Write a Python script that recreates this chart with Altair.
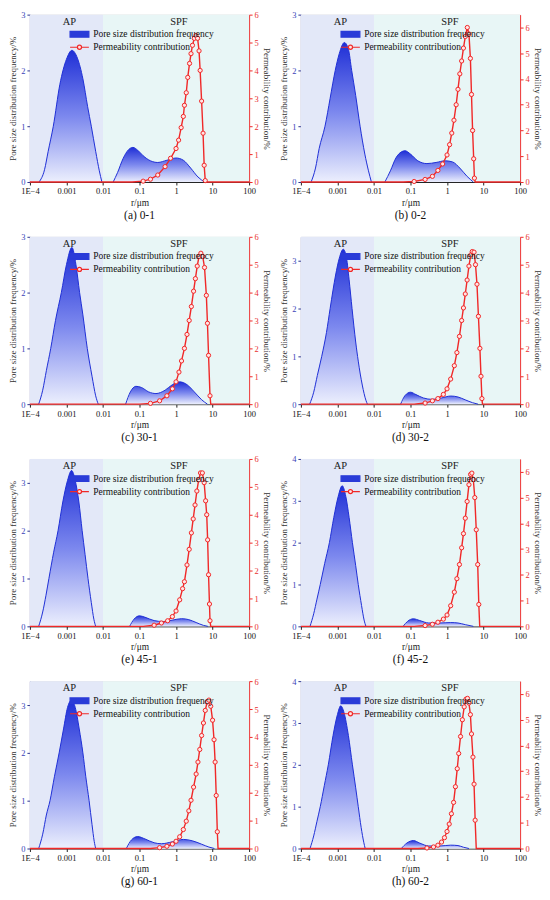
import altair as alt
import pandas as pd

SERIF = "Liberation Serif"

CAPTIONS = ["(a) 0-1", "(b) 0-2", "(c) 30-1", "(d) 30-2",
            "(e) 45-1", "(f) 45-2", "(g) 60-1", "(h) 60-2"]
LEFT_MAX = [3, 3, 3, 3.5, 3.5, 4, 3.5, 4]
RIGHT_MAX = [6, 6.5, 6, 6, 6, 6.5, 6, 6.5]
X_TICKS = [1e-4, 1e-3, 1e-2, 1e-1, 1, 10, 100]
ZONES = ["AP", "SPF"]
ZONE_FROM = [1e-4, 0.01]
ZONE_TO = [0.01, 100]
ZONE_LABEL_R = [0.0012, 1.2]
SERIES = ["Pore size distribution frequency", "Permeability contribution"]

# pore size distribution frequency (%) : [log10(r/um), value]
A_PSD_AP = [[-3.75, 0], [-3.6, 0.22], [-3.5, 0.55], [-3.36, 1.0], [-3.18, 1.75], [-3.0, 2.2],
            [-2.85, 2.36], [-2.7, 2.22], [-2.55, 1.85], [-2.42, 1.35], [-2.32, 1.0], [-2.2, 0.55],
            [-2.1, 0.2], [-2.03, 0]]
A_PSD_SPF = [[-1.72, 0], [-1.6, 0.17], [-1.45, 0.42], [-1.3, 0.58], [-1.18, 0.62], [-1.05, 0.57],
             [-0.9, 0.47], [-0.7, 0.38], [-0.5, 0.35], [-0.25, 0.39], [0.0, 0.43], [0.2, 0.39],
             [0.4, 0.25], [0.6, 0.09], [0.78, 0]]
B_PSD_AP = [[-3.72, 0], [-3.6, 0.25], [-3.5, 0.6], [-3.34, 1.0], [-3.2, 1.5], [-3.06, 2.0],
            [-2.95, 2.3], [-2.81, 2.5], [-2.7, 2.38], [-2.61, 2.0], [-2.5, 1.55], [-2.38, 1.0],
            [-2.25, 0.5], [-2.15, 0.2], [-2.07, 0]]
B_PSD_SPF = [[-1.7, 0], [-1.55, 0.2], [-1.4, 0.43], [-1.25, 0.54], [-1.15, 0.56], [-1.0, 0.5],
             [-0.8, 0.38], [-0.55, 0.33], [-0.3, 0.35], [-0.05, 0.38], [0.15, 0.36], [0.35, 0.25],
             [0.55, 0.1], [0.72, 0]]
C_PSD_AP = [[-3.76, 0], [-3.65, 0.25], [-3.55, 0.6], [-3.43, 1.0], [-3.3, 1.5], [-3.14, 2.0],
            [-3.0, 2.5], [-2.85, 2.81], [-2.74, 2.5], [-2.64, 2.0], [-2.55, 1.6], [-2.43, 1.0],
            [-2.3, 0.5], [-2.2, 0.15], [-2.13, 0]]
C_PSD_SPF = [[-1.38, 0], [-1.25, 0.22], [-1.1, 0.32], [-0.95, 0.3], [-0.75, 0.22], [-0.55, 0.19],
             [-0.3, 0.25], [-0.1, 0.35], [0.1, 0.4], [0.3, 0.35], [0.5, 0.22], [0.7, 0.08], [0.86, 0]]
D_PSD_AP = [[-3.76, 0], [-3.65, 0.25], [-3.55, 0.6], [-3.43, 1.0], [-3.3, 1.5], [-3.2, 2.0],
            [-3.05, 2.7], [-2.95, 3.05], [-2.84, 3.24], [-2.75, 3.05], [-2.68, 2.6], [-2.6, 2.0],
            [-2.5, 1.3], [-2.43, 0.9], [-2.32, 0.4], [-2.22, 0.08], [-2.18, 0]]
D_PSD_SPF = [[-1.27, 0], [-1.15, 0.18], [-1.0, 0.25], [-0.85, 0.2], [-0.65, 0.13], [-0.4, 0.1],
             [-0.15, 0.13], [0.1, 0.17], [0.3, 0.15], [0.5, 0.09], [0.7, 0.03], [0.85, 0]]
E_PSD_AP = [[-3.76, 0], [-3.65, 0.3], [-3.56, 0.65], [-3.48, 1.0], [-3.35, 1.55], [-3.23, 2.0],
            [-3.1, 2.6], [-2.97, 3.05], [-2.86, 3.26], [-2.76, 3.05], [-2.66, 2.6], [-2.57, 2.0],
            [-2.49, 1.5], [-2.41, 1.0], [-2.32, 0.5], [-2.25, 0.15], [-2.2, 0]]
E_PSD_SPF = [[-1.27, 0], [-1.15, 0.15], [-1.0, 0.22], [-0.85, 0.19], [-0.6, 0.12], [-0.35, 0.1],
             [-0.1, 0.13], [0.15, 0.16], [0.35, 0.14], [0.55, 0.08], [0.75, 0.02], [0.87, 0]]
F_PSD_AP = [[-3.75, 0], [-3.65, 0.3], [-3.56, 0.65], [-3.47, 1.0], [-3.35, 1.5], [-3.22, 2.0],
            [-3.1, 2.6], [-2.98, 3.1], [-2.87, 3.36], [-2.77, 3.1], [-2.68, 2.6], [-2.59, 2.0],
            [-2.5, 1.45], [-2.43, 1.0], [-2.34, 0.5], [-2.27, 0.15], [-2.22, 0]]
F_PSD_SPF = [[-1.2, 0], [-1.08, 0.12], [-0.92, 0.18], [-0.75, 0.14], [-0.5, 0.08], [-0.2, 0.08],
             [0.1, 0.09], [0.3, 0.08], [0.5, 0.04], [0.72, 0]]
G_PSD_AP = [[-3.76, 0], [-3.65, 0.3], [-3.55, 0.7], [-3.45, 1.0], [-3.33, 1.5], [-3.2, 2.0],
            [-3.08, 2.5], [-2.97, 2.95], [-2.86, 3.1], [-2.76, 2.95], [-2.65, 2.5], [-2.55, 2.0],
            [-2.47, 1.5], [-2.38, 1.0], [-2.3, 0.5], [-2.24, 0.15], [-2.2, 0]]
G_PSD_SPF = [[-1.36, 0], [-1.22, 0.18], [-1.05, 0.25], [-0.85, 0.2], [-0.6, 0.12], [-0.4, 0.1],
             [-0.1, 0.14], [0.2, 0.19], [0.45, 0.16], [0.7, 0.09], [0.9, 0.03], [1.05, 0]]
H_PSD_AP = [[-3.75, 0], [-3.65, 0.3], [-3.56, 0.65], [-3.47, 1.0], [-3.36, 1.5], [-3.25, 2.0],
            [-3.12, 2.7], [-3.0, 3.2], [-2.91, 3.41], [-2.82, 3.25], [-2.7, 2.7], [-2.59, 2.0],
            [-2.5, 1.45], [-2.43, 1.0], [-2.35, 0.5], [-2.28, 0.15], [-2.24, 0]]
H_PSD_SPF = [[-1.25, 0], [-1.1, 0.13], [-0.92, 0.19], [-0.75, 0.13], [-0.5, 0.06], [-0.2, 0.06],
             [0.1, 0.08], [0.3, 0.07], [0.45, 0.03], [0.6, 0]]

# permeability contribution (%) : [log10(r/um), value]
A_PERM = [[-4, 0], [-1.2, 0], [-0.9, 0.03], [-0.7, 0.1], [-0.5, 0.25], [-0.3, 0.55], [-0.15, 0.85],
          [0.0, 1.2], [0.07, 1.5], [0.14, 1.95], [0.2, 2.35], [0.23, 2.75], [0.28, 3.2], [0.32, 3.75],
          [0.37, 4.25], [0.41, 4.6], [0.45, 4.9], [0.5, 5.15], [0.545, 5.25], [0.59, 5.15],
          [0.63, 4.7], [0.66, 4.0], [0.7, 2.9], [0.74, 1.75], [0.77, 0.6], [0.8, 0.05], [0.82, 0], [2, 0]]
B_PERM = [[-4, 0], [-1.2, 0], [-0.9, 0.02], [-0.6, 0.1], [-0.4, 0.22], [-0.25, 0.45], [-0.12, 0.7],
          [0.0, 1.05], [0.07, 1.45], [0.13, 1.9], [0.19, 2.4], [0.25, 3.0], [0.3, 3.6], [0.35, 4.2],
          [0.4, 4.7], [0.45, 5.2], [0.5, 5.65], [0.555, 6.0], [0.6, 5.75], [0.64, 4.8], [0.67, 3.4],
          [0.7, 2.0], [0.73, 0.9], [0.75, 0.15], [0.77, 0], [2, 0]]
C_PERM = [[-4, 0], [-1.0, 0], [-0.7, 0.03], [-0.45, 0.12], [-0.25, 0.3], [-0.1, 0.55], [0.0, 0.8],
          [0.08, 1.15], [0.15, 1.55], [0.23, 2.0], [0.3, 2.5], [0.36, 3.0], [0.42, 3.5], [0.48, 4.05],
          [0.53, 4.5], [0.58, 4.95], [0.63, 5.3], [0.68, 5.41], [0.73, 5.3], [0.78, 4.9], [0.83, 3.9],
          [0.86, 2.9], [0.89, 1.75], [0.93, 0.3], [0.95, 0], [2, 0]]
D_PERM = [[-4, 0], [-0.9, 0], [-0.6, 0.04], [-0.4, 0.12], [-0.25, 0.2], [-0.1, 0.35], [0.0, 0.55],
          [0.1, 0.9], [0.2, 1.38], [0.27, 1.85], [0.34, 2.43], [0.4, 3.0], [0.45, 3.45], [0.5, 3.95],
          [0.55, 4.45], [0.6, 4.95], [0.65, 5.35], [0.69, 5.47], [0.74, 5.45], [0.78, 5.0], [0.82, 4.3],
          [0.86, 3.15], [0.9, 2.0], [0.93, 1.0], [0.955, 0.2], [0.97, 0], [2, 0]]
E_PERM = [[-4, 0], [-0.9, 0], [-0.6, 0.04], [-0.4, 0.12], [-0.23, 0.2], [-0.1, 0.35], [0.0, 0.55],
          [0.1, 0.95], [0.18, 1.35], [0.23, 1.6], [0.3, 2.2], [0.36, 2.76], [0.42, 3.35], [0.47, 3.85],
          [0.52, 4.35], [0.57, 4.85], [0.62, 5.25], [0.67, 5.5], [0.72, 5.5], [0.77, 5.15], [0.81, 4.5],
          [0.84, 4.0], [0.865, 3.1], [0.89, 1.85], [0.915, 0.8], [0.93, 0.2], [0.95, 0], [2, 0]]
F_PERM = [[-4, 0], [-0.9, 0], [-0.6, 0.03], [-0.4, 0.08], [-0.25, 0.16], [-0.1, 0.28], [0.0, 0.44],
          [0.1, 0.8], [0.2, 1.33], [0.27, 1.85], [0.34, 2.4], [0.4, 3.05], [0.45, 3.6], [0.5, 4.2],
          [0.55, 4.85], [0.6, 5.5], [0.645, 5.9], [0.68, 5.95], [0.72, 5.7], [0.76, 5.0], [0.8, 3.75],
          [0.84, 2.4], [0.87, 0.85], [0.895, 0], [2, 0]]
G_PERM = [[-4, 0], [-0.7, 0], [-0.45, 0.03], [-0.25, 0.08], [-0.1, 0.16], [0.0, 0.26], [0.1, 0.42],
          [0.2, 0.68], [0.28, 0.98], [0.35, 1.35], [0.41, 1.73], [0.48, 2.2], [0.55, 2.67], [0.6, 3.1],
          [0.65, 3.55], [0.7, 4.05], [0.75, 4.5], [0.8, 4.95], [0.85, 5.25], [0.9, 5.32], [0.95, 5.1],
          [1.0, 4.6], [1.04, 3.9], [1.07, 3.1], [1.1, 1.9], [1.13, 0.6], [1.15, 0], [2, 0]]
H_PERM = [[-4, 0], [-0.8, 0], [-0.55, 0.02], [-0.37, 0.06], [-0.25, 0.13], [-0.15, 0.25], [-0.07, 0.42],
          [0.0, 0.66], [0.06, 0.95], [0.12, 1.35], [0.18, 1.79], [0.23, 2.4], [0.28, 3.1], [0.32, 3.69],
          [0.37, 4.35], [0.42, 5.0], [0.47, 5.5], [0.52, 5.8], [0.56, 5.83], [0.6, 5.65], [0.64, 5.2],
          [0.67, 4.45], [0.71, 3.55], [0.74, 2.5], [0.77, 1.1], [0.8, 0], [2, 0]]

PSD_AP = [A_PSD_AP, B_PSD_AP, C_PSD_AP, D_PSD_AP, E_PSD_AP, F_PSD_AP, G_PSD_AP, H_PSD_AP]
PSD_SPF = [A_PSD_SPF, B_PSD_SPF, C_PSD_SPF, D_PSD_SPF, E_PSD_SPF, F_PSD_SPF, G_PSD_SPF, H_PSD_SPF]
PERM = [A_PERM, B_PERM, C_PERM, D_PERM, E_PERM, F_PERM, G_PERM, H_PERM]

BLUE_DARK = "#1f2fd6"
RED = "#f02828"
GRAD = alt.Gradient(
    gradient="linear", x1=1, x2=1, y1=1, y2=0,
    stops=[alt.GradientStop(color="#eceffd", offset=0),
           alt.GradientStop(color="#7c88ee", offset=0.5),
           alt.GradientStop(color=BLUE_DARK, offset=1)])

# legend glyphs: a wide bar, and a short line with a small ring on it
LEG_BAR = "M-3.45,-1.05H3.45V1.05H-3.45Z"
LEG_LINE = ("M-3.45,0H-0.75A0.75,0.75 0 1,1 0.75,0H3.45"
            "M0.75,0A0.75,0.75 0 1,1 -0.75,0")

X_LABEL_EXPR = ("datum.value < 0.0005 ? '1E\u22124' : datum.value < 0.005 ? '0.001' : "
                "datum.value < 0.05 ? '0.01' : datum.value < 0.5 ? '0.1' : "
                "datum.value < 5 ? '1' : datum.value < 50 ? '10' : '100'")


def panel(i):
    rows = []
    for hump, pts in ((ZONES[0], PSD_AP[i]), (ZONES[1], PSD_SPF[i])):
        for lx, v in pts:
            rows.append({"r": 10 ** lx, "v": v, "hump": hump})
    psd = pd.DataFrame(rows)
    perm = pd.DataFrame({"r": [10 ** p[0] for p in PERM[i]],
                         "p": [p[1] for p in PERM[i]],
                         "series": SERIES[1]})
    zones = pd.DataFrame({"zone": ZONES, "x0": ZONE_FROM, "x1": ZONE_TO, "lr": ZONE_LABEL_R,
                          "top": [LEFT_MAX[i]] * 2})

    xs = alt.Scale(type="log", domain=[1e-4, 100], nice=False)
    ys_left = alt.Scale(domain=[0, LEFT_MAX[i]], nice=False, zero=True)
    ys_right = alt.Scale(domain=[0, RIGHT_MAX[i]], nice=False, zero=True)

    x_axis = alt.Axis(values=X_TICKS, labelExpr=X_LABEL_EXPR, title="r/\u03bcm",
                      labelFont=SERIF, labelFontSize=8.5, titleFont=SERIF, titleFontSize=9.5,
                      titleFontWeight="normal", labelColor="#111", titleColor="#222",
                      domainColor="#222", tickColor="#222", tickSize=3, labelPadding=2,
                      titlePadding=2, labelFlush=False, labelOverlap=False, grid=False)
    left_axis = alt.Axis(orient="left", values=list(range(0, int(LEFT_MAX[i]) + 1)),
                         format="d", title="Pore size distribution frequency/%",
                         labelFont=SERIF, labelFontSize=8.5, labelColor="#3a3fb8",
                         domainColor="#2c3590", tickColor="#2c3590", tickSize=3,
                         titleFont=SERIF, titleFontSize=9, titleFontWeight="normal",
                         titleColor="#333", titlePadding=3, labelPadding=2, grid=False,
                         labelOverlap=False)
    right_axis = alt.Axis(orient="right", values=[0, 1, 2, 3, 4, 5, 6], format="d",
                          title="Permeability contribution/%",
                          labelFont=SERIF, labelFontSize=8.5, labelColor="#e83030",
                          domainColor=RED, tickColor=RED, tickSize=3,
                          titleFont=SERIF, titleFontSize=9, titleFontWeight="normal",
                          titleColor="#333", titlePadding=3, labelPadding=2, grid=False,
                          labelOverlap=False)

    X = lambda f: alt.X(f, scale=xs, axis=x_axis)

    bg = alt.Chart(zones).mark_rect().encode(
        x=X("x0:Q"),
        x2="x1:Q",
        color=alt.Color("zone:N", scale=alt.Scale(domain=ZONES, range=["#e3e8f8", "#e8f6f6"]),
                        legend=None))
    area = alt.Chart(psd).mark_area(interpolate="monotone", fill=GRAD).encode(
        x=X("r:Q"),
        y=alt.Y("v:Q", scale=ys_left, axis=left_axis),
        detail="hump:N")
    edge = alt.Chart(psd).mark_line(interpolate="monotone", color=BLUE_DARK, strokeWidth=1).encode(
        x=X("r:Q"),
        y=alt.Y("v:Q", scale=ys_left, axis=left_axis),
        detail="hump:N")
    zone_text = alt.Chart(zones).mark_text(font=SERIF, fontSize=10.5, baseline="top", dy=2,
                                           color="#222").encode(
        x=X("lr:Q"),
        y=alt.Y("top:Q", scale=ys_left, axis=left_axis),
        text="zone:N")
    left = alt.layer(bg, area, edge, zone_text)

    leg = alt.Legend(orient="none", legendX=45, legendY=15, title=None,
                     labelFont=SERIF, labelFontSize=9.5, labelColor="#111",
                     symbolSize=30, labelOffset=9, rowPadding=1, padding=0,
                     labelLimit=300, symbolStrokeWidth=1.2, symbolOpacity=1)
    line = alt.Chart(perm).mark_line(color=RED, strokeWidth=1.4).encode(
        x=X("r:Q"),
        y=alt.Y("p:Q", scale=ys_right, axis=right_axis))
    pts = alt.Chart(perm).transform_filter("datum.p > 0").mark_point(
        filled=True, size=18, strokeWidth=1, fill="#ffe4e4", stroke=RED, shape="circle",
        opacity=1).encode(
        x=X("r:Q"),
        y=alt.Y("p:Q", scale=ys_right, axis=right_axis))
    # legend-only layer (no marks drawn: every row is filtered out)
    key = alt.Chart(perm).transform_filter("false").mark_point(filled=True, opacity=1).encode(
        x=X("r:Q"),
        y=alt.Y("p:Q", scale=ys_right, axis=right_axis),
        fill=alt.Fill("series:N", scale=alt.Scale(domain=SERIES, range=["#2a3bd8", "#ffe4e4"]),
                      legend=leg),
        stroke=alt.Stroke("series:N", scale=alt.Scale(domain=SERIES, range=["#2a3bd8", RED]),
                          legend=leg),
        shape=alt.Shape("series:N", scale=alt.Scale(domain=SERIES, range=[LEG_BAR, LEG_LINE]),
                        legend=leg))
    right = alt.layer(line, pts, key)

    return alt.layer(left, right).resolve_scale(y="independent").properties(
        width=220, height=168,
        title=alt.TitleParams(CAPTIONS[i], orient="bottom", font=SERIF, fontSize=11.5,
                              fontWeight="normal", color="#111", offset=3))


IND = dict(fill="independent", stroke="independent", shape="independent", color="independent")
rows = []
for k in range(4):
    rows.append(alt.hconcat(panel(2 * k), panel(2 * k + 1), spacing=8)
                .resolve_scale(**IND)
                .resolve_legend(fill="independent", stroke="independent", shape="independent"))

chart = (alt.vconcat(*rows, spacing=10)
         .resolve_scale(**IND)
         .resolve_legend(fill="independent", stroke="independent", shape="independent")
         .properties(padding=0)
         .configure_view(stroke="#444444", strokeWidth=1)
         .configure(background="white"))

chart.save("out.html", embed_options={"renderer": "svg", "actions": False})
